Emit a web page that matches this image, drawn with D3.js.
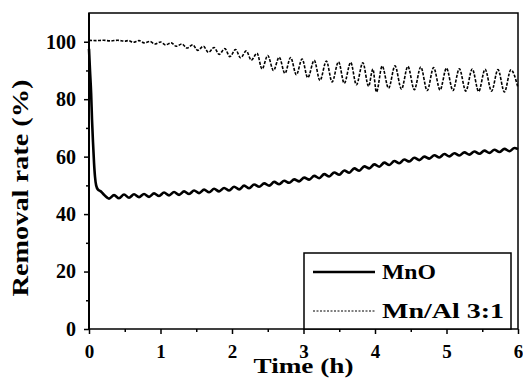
<!DOCTYPE html>
<html>
<head>
<meta charset="utf-8">
<script src="https://cdn.jsdelivr.net/npm/d3@7"></script>
<style>
  body { margin: 0; background: #fff; }
  text { font-family: "Liberation Serif", "Times New Roman", Times, serif; font-weight: bold; fill: #000; }
</style>
</head>
<body>
<svg id="chart" width="523" height="380"></svg>
<script>
// time (h), removal rate (%)
const mnoPoints = [
  [0, 97.5], [0.014, 90], [0.03, 82], [0.042, 73], [0.056, 65], [0.07, 58], [0.084, 53], [0.1, 50],
  [0.126, 48.5], [0.16, 48], [0.2, 47], [0.25, 45.8],
  [0.28, 45.4], [0.35, 46.6], [0.42, 45.5], [0.49, 46.8], [0.56, 45.7], [0.63, 46.9], [0.70, 45.9], [0.77, 47.0],
  [0.84, 46.0], [0.91, 47.2], [0.98, 46.3], [1.05, 47.5], [1.12, 46.5], [1.19, 47.7], [1.26, 46.7], [1.33, 47.9],
  [1.40, 47.0], [1.47, 48.2], [1.54, 47.3], [1.61, 48.5], [1.68, 47.6], [1.75, 48.8], [1.82, 47.9], [1.89, 49.1],
  [1.96, 48.2], [2.03, 49.5], [2.10, 48.6], [2.17, 49.9], [2.24, 49.0], [2.31, 50.3], [2.38, 49.5], [2.45, 50.7],
  [2.52, 49.9], [2.59, 51.2], [2.66, 50.4], [2.73, 51.6], [2.80, 50.9], [2.87, 52.1], [2.94, 51.4], [3.01, 52.7],
  [3.08, 52.0], [3.15, 53.3], [3.22, 52.5], [3.29, 53.9], [3.36, 53.1], [3.43, 54.5], [3.50, 53.7], [3.57, 55.2],
  [3.64, 54.4], [3.71, 55.9], [3.78, 55.1], [3.85, 56.6], [3.92, 55.9], [3.99, 57.3], [4.06, 56.5], [4.13, 57.9],
  [4.20, 57.1], [4.27, 58.5], [4.34, 57.7], [4.41, 59.0], [4.48, 58.3], [4.55, 59.6], [4.62, 58.8], [4.69, 60.0],
  [4.76, 59.3], [4.83, 60.5], [4.90, 59.7], [4.97, 60.9], [5.04, 60.1], [5.11, 61.2], [5.18, 60.4], [5.25, 61.5],
  [5.32, 60.7], [5.39, 61.8], [5.46, 61.0], [5.53, 62.1], [5.60, 61.3], [5.67, 62.4], [5.74, 61.6], [5.81, 62.7],
  [5.88, 61.9], [5.95, 63.0], [6.00, 62.6]
];

const mnalPoints = [
  [0, 100.5], [0.10, 100.4], [0.20, 100.5], [0.30, 100.3], [0.40, 100.5], [0.50, 100.2], [0.55, 100.4],
  [0.62, 99.8], [0.70, 100.4], [0.77, 99.6], [0.85, 100.1], [0.92, 99.2], [1.00, 99.9], [1.07, 98.9],
  [1.15, 99.6], [1.22, 98.4], [1.30, 99.2], [1.37, 97.8], [1.45, 98.9], [1.52, 97.0], [1.60, 98.4],
  [1.67, 96.3], [1.75, 98.0], [1.82, 95.6], [1.90, 97.6], [1.97, 94.8], [2.05, 97.3], [2.12, 94.4],
  [2.20, 96.8], [2.27, 93.6], [2.35, 96.0], [2.42, 90.5], [2.50, 95.2], [2.58, 90.0], [2.66, 94.6],
  [2.74, 89.0], [2.82, 94.5], [2.90, 88.5], [2.98, 94.0], [3.06, 87.5], [3.15, 93.5], [3.23, 86.5],
  [3.32, 93.3], [3.40, 86.0], [3.49, 93.0], [3.57, 85.5], [3.66, 92.8], [3.74, 85.0], [3.83, 92.7],
  [3.91, 84.5], [3.97, 90.5], [4.02, 82.5], [4.10, 91.5], [4.19, 83.8], [4.28, 91.6], [4.37, 83.5],
  [4.46, 91.4], [4.55, 83.3], [4.64, 91.2], [4.73, 83.0], [4.82, 91.0], [4.91, 83.2], [5.00, 90.8],
  [5.09, 83.0], [5.18, 90.6], [5.27, 82.8], [5.36, 90.5], [5.45, 82.7], [5.54, 90.4], [5.63, 82.8],
  [5.72, 90.3], [5.81, 82.5], [5.90, 90.2], [6.00, 84.0]
];

const seriesNames = ['MnO', 'Mn/Al 3:1'];
const xMajor = [0, 1, 2, 3, 4, 5, 6];
const xMinor = [0.5, 1.5, 2.5, 3.5, 4.5, 5.5];
const yMajor = [0, 20, 40, 60, 80, 100];
const yMinor = [10, 30, 50, 70, 90];

const width = 523, height = 380;
const margin = { top: 13, right: 5, bottom: 51, left: 89 };
const serif = '"Liberation Serif", "Times New Roman", Times, serif';

const svg = d3.select('#chart');

const x = d3.scaleLinear().domain([0, 6]).range([margin.left, width - margin.right]);
const y = d3.scaleLinear().domain([0, 110]).range([height - margin.bottom, margin.top]);

// minor ticks
svg.append('g')
  .attr('transform', `translate(0,${y(0)})`)
  .call(d3.axisBottom(x).tickValues(xMinor).tickSize(3).tickFormat(''))
  .call(g => g.select('.domain').remove());
svg.append('g')
  .attr('transform', `translate(${x(0)},0)`)
  .call(d3.axisLeft(y).tickValues(yMinor).tickSize(3).tickFormat(''))
  .call(g => g.select('.domain').remove());

// major ticks + labels
const xAxis = svg.append('g')
  .attr('transform', `translate(0,${y(0)})`)
  .call(d3.axisBottom(x).tickValues(xMajor).tickSize(5).tickPadding(11).tickFormat(d3.format('d')));
xAxis.select('.domain').remove();

const yAxis = svg.append('g')
  .attr('transform', `translate(${x(0)},0)`)
  .call(d3.axisLeft(y).tickValues(yMajor).tickSize(5).tickPadding(8).tickFormat(d3.format('d')));
yAxis.select('.domain').remove();

svg.selectAll('.tick line').attr('stroke', '#000').attr('stroke-width', 1.5);
svg.selectAll('g.tick text')
  .attr('fill', '#000')
  .attr('font-family', serif)
  .attr('font-weight', 'bold')
  .attr('font-size', 19)
  .style('font-family', serif);
yAxis.selectAll('text').attr('font-size', 20);

// lines
const line = d3.line()
  .x(d => x(d[0]))
  .y(d => y(d[1]))
  .curve(d3.curveMonotoneX);

svg.append('path')
  .datum(mnalPoints)
  .attr('fill', 'none')
  .attr('stroke', '#000')
  .attr('stroke-width', 1.6)
  .attr('stroke-dasharray', '3,1.5')
  .attr('d', line);

svg.append('path')
  .datum(mnoPoints)
  .attr('fill', 'none')
  .attr('stroke', '#000')
  .attr('stroke-width', 2.6)
  .attr('stroke-linejoin', 'round')
  .attr('d', line);

// frame
svg.append('rect')
  .attr('x', x(0)).attr('y', y(110))
  .attr('width', x(6) - x(0)).attr('height', y(0) - y(110))
  .attr('fill', 'none').attr('stroke', '#000').attr('stroke-width', 1.5);
svg.append('line')
  .attr('x1', x(0)).attr('x2', x(0)).attr('y1', y(110)).attr('y2', y(0))
  .attr('stroke', '#000').attr('stroke-width', 2);

// axis titles
svg.append('text')
  .attr('x', (x(0) + x(6)) / 2).attr('y', 373)
  .attr('text-anchor', 'middle')
  .attr('textLength', 100).attr('lengthAdjust', 'spacingAndGlyphs')
  .style('font-size', '22px')
  .text('Time (h)');

svg.append('text')
  .attr('transform', 'translate(28,188) rotate(-90)')
  .attr('text-anchor', 'middle')
  .attr('textLength', 217).attr('lengthAdjust', 'spacingAndGlyphs')
  .style('font-size', '24px')
  .text('Removal rate (%)');

// legend
const legend = svg.append('g');
legend.append('rect')
  .attr('x', 304).attr('y', 253).attr('width', 207).attr('height', y(0) - 253)
  .attr('fill', '#fff').attr('stroke', '#000').attr('stroke-width', 1.5);

const legendRows = [
  { name: seriesNames[0], width: 2.6, dash: null, len: 54, yy: 272 },
  { name: seriesNames[1], width: 1, dash: '2,1.5', len: 122, yy: 311 }
];
legendRows.forEach(r => {
  legend.append('line')
    .attr('x1', 313).attr('x2', 375).attr('y1', r.yy).attr('y2', r.yy)
    .attr('stroke', '#000').attr('stroke-width', r.width)
    .attr('stroke-dasharray', r.dash);
  legend.append('text')
    .attr('x', 382).attr('y', r.yy + 7)
    .attr('textLength', r.len).attr('lengthAdjust', 'spacingAndGlyphs')
    .style('font-size', '21px')
    .text(r.name);
});
</script>
</body>
</html>
